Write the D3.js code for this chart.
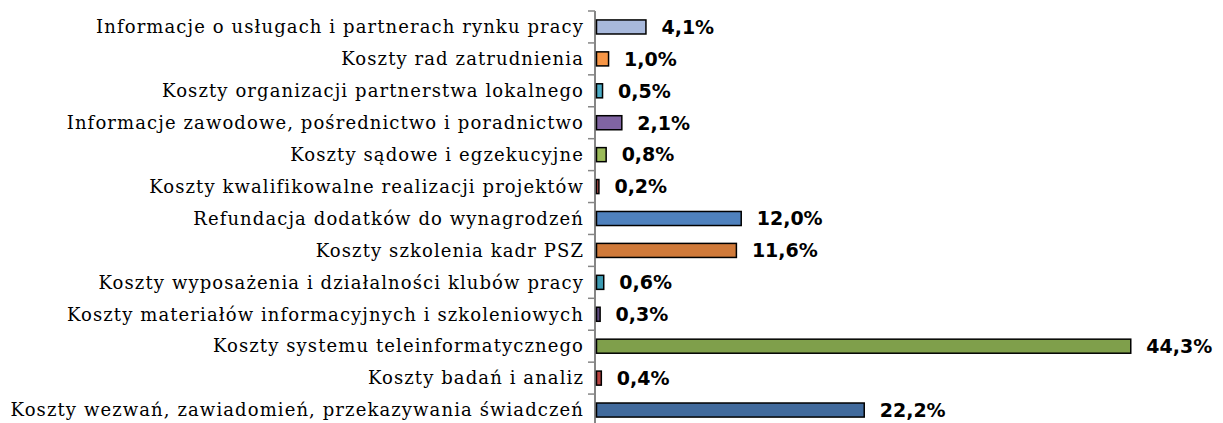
<html>
<head>
<meta charset="utf-8">
<script src="https://d3js.org/d3.v7.min.js"></script>
<style>
  body { margin: 0; padding: 0; background: #fff; }
  .cat { font-family: "DejaVu Serif", serif; font-size: 18px; letter-spacing: 1.1px; fill: #000; }
  .val { font-family: "DejaVu Sans", sans-serif; font-weight: bold; font-size: 19px; fill: #000; }
</style>
</head>
<body>
<script>
// categories from top to bottom
var categories = [
  "Informacje o usługach i partnerach rynku pracy",
  "Koszty rad zatrudnienia",
  "Koszty organizacji partnerstwa lokalnego",
  "Informacje zawodowe, pośrednictwo i poradnictwo",
  "Koszty sądowe i egzekucyjne",
  "Koszty kwalifikowalne realizacji projektów",
  "Refundacja dodatków do wynagrodzeń",
  "Koszty szkolenia kadr PSZ",
  "Koszty wyposażenia i działalności klubów pracy",
  "Koszty materiałów informacyjnych i szkoleniowych",
  "Koszty systemu teleinformatycznego",
  "Koszty badań i analiz",
  "Koszty wezwań, zawiadomień, przekazywania świadczeń"
];
var values = [4.1, 1.0, 0.5, 2.1, 0.8, 0.2, 12.0, 11.6, 0.6, 0.3, 44.3, 0.4, 22.2];
var colors = ["#a8b9dc", "#f79646", "#4bacc6", "#8064a2", "#9bbb59", "#c0504d", "#4f81bd",
              "#d07a3a", "#3c9ab2", "#5f4b80", "#7f9f4b", "#b9423f", "#416a9c"];

var w = 1223, h = 423;
var svg = d3.select("body").append("svg").attr("width", w).attr("height", h);

var x = d3.scaleLinear().domain([0, 50]).range([596, 1199]);
var y = d3.scaleBand().domain(categories).range([11, 426])
          .paddingInner(0.56).paddingOuter(0.28);

var fmt = function(v) { return v.toFixed(1).replace(".", ",") + "%"; };

// axis line + ticks between categories
var edges = d3.range(categories.length + 1).map(function(i) { return y.range()[0] + i * y.step(); });
svg.append("line")
   .attr("x1", x(0) - 1).attr("x2", x(0) - 1)
   .attr("y1", edges[0]).attr("y2", edges[edges.length - 1])
   .attr("stroke", "#868686").attr("stroke-width", 2);
svg.selectAll(".tick").data(edges).enter().append("line")
   .attr("x1", x(0) - 8).attr("x2", x(0) - 1)
   .attr("y1", function(d) { return d; }).attr("y2", function(d) { return d; })
   .attr("stroke", "#868686").attr("stroke-width", 1.5);

// bars
svg.selectAll(".bar").data(values).enter().append("rect")
   .attr("x", x(0) + 0.5)
   .attr("y", function(d, i) { return y(categories[i]); })
   .attr("width", function(d) { return x(d) - x(0); })
   .attr("height", y.bandwidth())
   .attr("fill", function(d, i) { return colors[i]; })
   .attr("stroke", "#000").attr("stroke-width", 1.5);

// category labels
svg.selectAll(".cat").data(categories).enter().append("text")
   .attr("class", "cat")
   .attr("x", 584)
   .attr("y", function(d) { return y(d) + y.bandwidth() / 2; })
   .attr("dy", "0.35em")
   .attr("text-anchor", "end")
   .text(function(d) { return d; });

// value labels
svg.selectAll(".val").data(values).enter().append("text")
   .attr("class", "val")
   .attr("x", function(d) { return x(d) + 16; })
   .attr("y", function(d, i) { return y(categories[i]) + y.bandwidth() / 2; })
   .attr("dy", "0.36em")
   .text(function(d) { return fmt(d); });
</script>
</body>
</html>
